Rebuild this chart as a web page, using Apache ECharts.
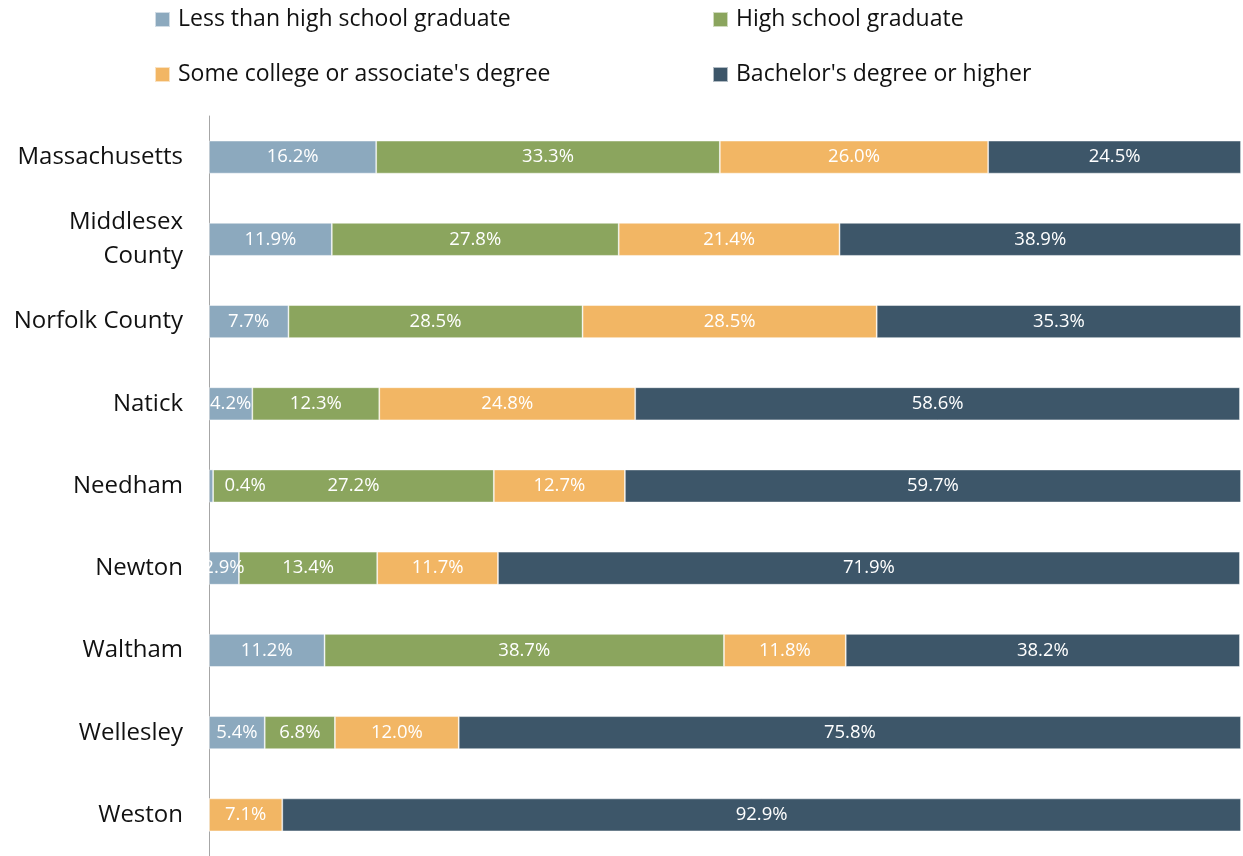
<!DOCTYPE html>
<html>
<head>
<meta charset="utf-8">
<script src="https://cdn.jsdelivr.net/npm/echarts@6/dist/echarts.min.js"></script>
<style>
  html, body { margin: 0; padding: 0; background: #fff; }
  #chart { width: 1243px; height: 856px; }
</style>
</head>
<body>
<div id="chart"></div>
<script>
// Educational attainment, population 25 years and over (percent)
const places = ['Massachusetts', 'Middlesex\nCounty', 'Norfolk County', 'Natick', 'Needham', 'Newton', 'Waltham', 'Wellesley', 'Weston'];
const lessThanHS   = [16.2, 11.9, 7.7, 4.2, 0.4, 2.9, 11.2, 5.4, 0];
const highSchool   = [33.3, 27.8, 28.5, 12.3, 27.2, 13.4, 38.7, 6.8, 0];
const someCollege  = [26.0, 21.4, 28.5, 24.8, 12.7, 11.7, 11.8, 12.0, 7.1];
const bachelors    = [24.5, 38.9, 35.3, 58.6, 59.7, 71.9, 38.2, 75.8, 92.9];

const seriesNames = ['Less than high school graduate', 'High school graduate', "Some college or associate's degree", "Bachelor's degree or higher"];
const seriesData = [lessThanHS, highSchool, someCollege, bachelors];
const colors = ['#8CA9BE', '#8BA55E', '#F2B664', '#3D5669'];

const FONT = 'Open Sans';

function makeSeries(i) {
  return {
    name: seriesNames[i],
    type: 'bar',
    stack: 'total',
    barWidth: 33,
    itemStyle: { color: colors[i], borderColor: 'rgba(255,255,255,0.6)', borderWidth: 0.8 },
    label: {
      show: true,
      position: 'inside',
      color: '#fff',
      fontFamily: FONT,
      fontSize: 18.5,
      formatter: p => (p.value > 0 ? p.value.toFixed(1) + '%' : '')
    },
    data: seriesData[i].map((v, j) => {
      // the tiny Needham share has its label nudged into the next segment
      if (i === 0 && places[j] === 'Needham') {
        return { value: v, label: { offset: [34, 0] } };
      }
      return v;
    })
  };
}

// one legend entry per box so the two-by-two layout is fixed
const legendPos = [
  { left: 154, top: 8 },
  { left: 712, top: 8 },
  { left: 154, top: 63 },
  { left: 712, top: 63 }
];

const option = {
  animation: false,
  color: colors,
  legend: seriesNames.map((n, i) => ({
    data: [n],
    left: legendPos[i].left,
    top: legendPos[i].top,
    padding: 0,
    itemWidth: 15,
    itemHeight: 15,
    itemGap: 0,
    icon: 'rect',
    textStyle: { fontFamily: FONT, fontSize: 23, color: '#111', padding: [0, 0, 0, 3] },
    selectedMode: false
  })),
  grid: { left: 209, right: 2, top: 116, bottom: 0, containLabel: false },
  xAxis: {
    type: 'value',
    min: 0,
    max: 100,
    show: false
  },
  yAxis: {
    type: 'category',
    data: places,
    inverse: true,
    axisLine: { show: true, lineStyle: { color: '#A6A6A6', width: 1 } },
    axisTick: { show: false },
    axisLabel: {
      margin: 26,
      fontFamily: FONT,
      fontSize: 24,
      color: '#111',
      lineHeight: 34,
      align: 'right',
      padding: [6, 0, 0, 0]
    }
  },
  series: [0, 1, 2, 3].map(makeSeries)
};

const chart = echarts.init(document.getElementById('chart'), null, { renderer: 'canvas' });
chart.setOption(option);
</script>
</body>
</html>
